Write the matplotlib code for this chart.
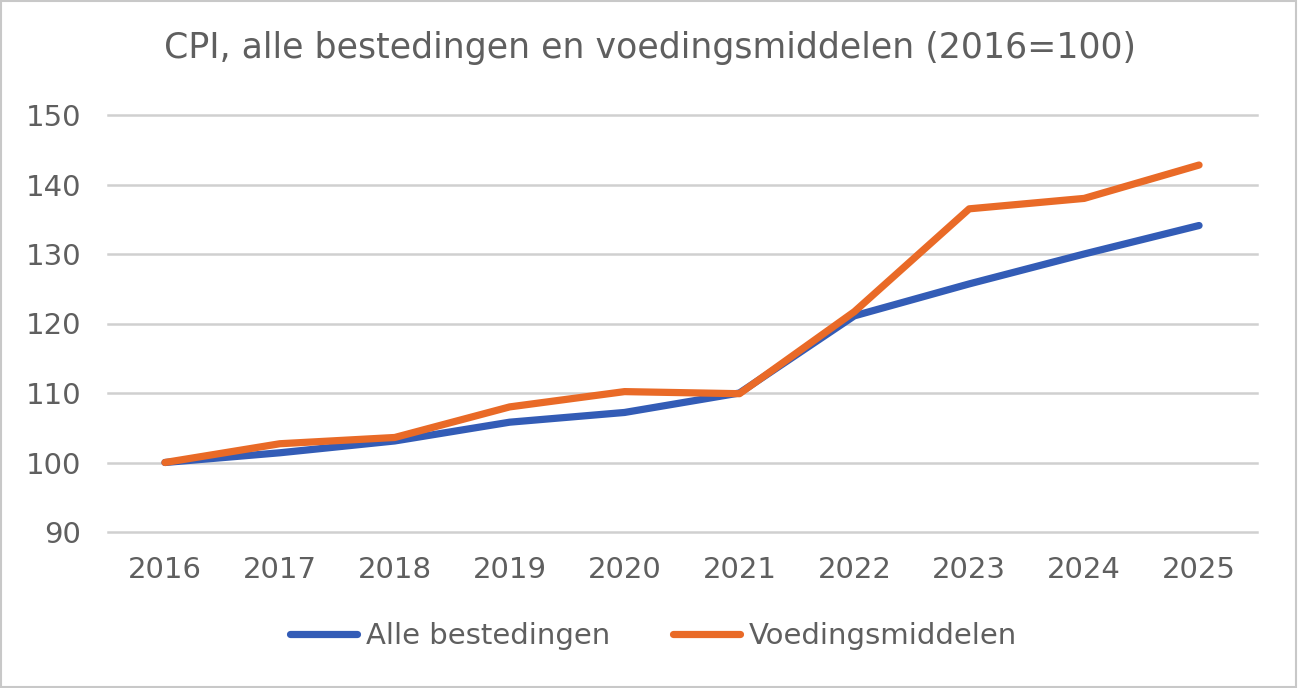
import matplotlib
matplotlib.use("Agg")
import matplotlib.pyplot as plt
from matplotlib.patches import Rectangle

plt.rcParams["font.family"] = ["DejaVu Sans"]

years = ["2016", "2017", "2018", "2019", "2020", "2021", "2022", "2023", "2024", "2025"]
alle_bestedingen = [100.0, 101.4, 103.1, 105.8, 107.2, 110.0, 121.1, 125.7, 130.0, 134.1]
voedingsmiddelen = [100.0, 102.7, 103.6, 108.0, 110.2, 109.9, 121.7, 136.5, 138.0, 142.8]
yticks = [90, 100, 110, 120, 130, 140, 150]
title = "CPI, alle bestedingen en voedingsmiddelen (2016=100)"

txt = "#5f5f5f"
fig = plt.figure(figsize=(12.99, 6.88), dpi=100)
ax = fig.add_axes([107.5 / 1299, 1 - 532 / 688, 1149 / 1299, 417 / 688])

x = list(range(len(years)))
ax.plot(x, alle_bestedingen, color="#335cb6", lw=5.2, solid_capstyle="round",
        solid_joinstyle="round", label="Alle bestedingen", zorder=3)
ax.plot(x, voedingsmiddelen, color="#e96a27", lw=5.2, solid_capstyle="round",
        solid_joinstyle="round", label="Voedingsmiddelen", zorder=4)

ax.set_xlim(-0.5, len(years) - 0.5)
ax.set_ylim(90, 150)
ax.set_yticks(yticks)
ax.set_xticks(x)
ax.set_xticklabels(years)
for s in ax.spines.values():
    s.set_visible(False)
ax.grid(axis="y", color="#d0d0d0", lw=1.8)
for gl in ax.get_ygridlines():
    gl.set_clip_on(False)
ax.set_axisbelow(True)
ax.tick_params(axis="both", length=0, labelsize=21, labelcolor=txt)
ax.tick_params(axis="x", pad=17)
ax.tick_params(axis="y", pad=19)

fig.text(0.5, 1 - 48 / 688, title, ha="center", va="center", fontsize=25, color=txt)

leg = fig.legend(loc="center", bbox_to_anchor=(0.503, 1 - 636 / 688), ncol=2, frameon=False,
                 fontsize=21, labelcolor=txt, handlelength=2.3, handletextpad=0.3,
                 columnspacing=2.15)

fig.patches.append(Rectangle((0.001, 0.001), 0.997, 0.997, transform=fig.transFigure,
                             fill=False, edgecolor="#c8c8c8", lw=1.5))

fig.savefig("out.png", dpi=100)
